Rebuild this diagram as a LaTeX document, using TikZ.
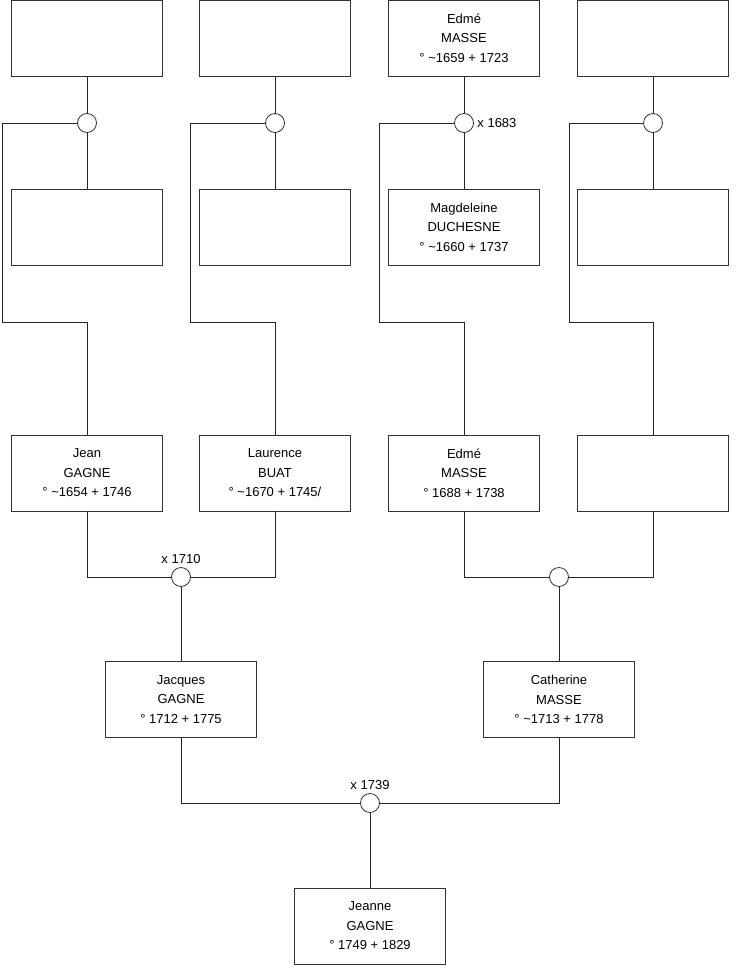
\documentclass[tikz,border=0pt]{standalone}
\usepackage{fontspec}
\setmainfont{Liberation Sans}
\usepackage{tikz}
\usetikzlibrary{positioning, calc}
\tikzstyle{person} = [rectangle,
minimum width=151pt,
minimum height=76pt,
inner sep=0pt,
align=center,
draw=black!80,
line width=0.8pt,
font=\fontsize{13}{19.5}\selectfont]
\tikzstyle{union} = [circle,
minimum size=19pt,
inner sep=0pt,
draw=black!80,
line width=0.8pt,
fill=white]
\tikzstyle{date} = [font=\fontsize{13}{15}\selectfont]
\tikzstyle{link} = [line width=0.8pt, draw=black!85]

\begin{document}
\begin{tikzpicture}[x=1pt, y=-1pt]
            \useasboundingbox (0,0) rectangle (740,975);
            % generation 1
            \node (g1a) [person] at (87,38) {};
            \node (g1b) [person] at (275,38) {};
            \node (g1c) [person] at (464,38) {Edmé\\MASSE\\° \textasciitilde1659 + 1723};
            \node (g1d) [person] at (653,38) {};
            \node (u1a) [union] at (87,123) {};
            \node (u1b) [union] at (275,123) {};
            \node (u1c) [union, label={[date]right:x 1683}] at (464,123) {};
            \node (u1d) [union] at (653,123) {};
            \node (g1e) [person] at (87,227) {};
            \node (g1f) [person] at (275,227) {};
            \node (g1g) [person] at (464,227) {Magdeleine\\DUCHESNE\\° \textasciitilde1660 + 1737};
            \node (g1h) [person] at (653,227) {};
            \coordinate (k1a) at (2,322);
            \coordinate (k1b) at (190,322);
            \coordinate (k1c) at (379,322);
            \coordinate (k1d) at (569,322);

            % generation 2
            \node (jean) [person] at (87,473) {Jean\\GAGNE\\° \textasciitilde1654 + 1746};
            \node (laurence) [person] at (275,473) {Laurence\\BUAT\\° \textasciitilde1670 + 1745/};
            \node (edme) [person] at (464,473) {Edmé\\MASSE\\° 1688 + 1738};
            \node (g2d) [person] at (653,473) {};
            \node (u2a) [union, label={[date]above:x 1710}] at (181,577) {};
            \node (u2b) [union] at (559,577) {};

            % generation 3
            \node (jacques) [person] at (181,699.5) {Jacques\\GAGNE\\° 1712 + 1775};
            \node (catherine) [person] at (559,699.5) {Catherine\\MASSE\\° \textasciitilde1713 + 1778};
            \node (u3) [union, label={[date]above:x 1739}] at (370,803) {};
            \node (jeanne) [person] at (370,926) {Jeanne\\GAGNE\\° 1749 + 1829};

            \draw [link] (g1a) -- (u1a);
            \draw [link] (u1a) -- (g1e);
            \draw [link] (u1a.west) -| (k1a) -| (jean.north);
            \draw [link] (g1b) -- (u1b);
            \draw [link] (u1b) -- (g1f);
            \draw [link] (u1b.west) -| (k1b) -| (laurence.north);
            \draw [link] (g1c) -- (u1c);
            \draw [link] (u1c) -- (g1g);
            \draw [link] (u1c.west) -| (k1c) -| (edme.north);
            \draw [link] (g1d) -- (u1d);
            \draw [link] (u1d) -- (g1h);
            \draw [link] (u1d.west) -| (k1d) -| (g2d.north);

            \draw [link] (jean.south) |- (u2a.west);
            \draw [link] (laurence.south) |- (u2a.east);
            \draw [link] (u2a) -- (jacques);
            \draw [link] (edme.south) |- (u2b.west);
            \draw [link] (g2d.south) |- (u2b.east);
            \draw [link] (u2b) -- (catherine);

            \draw [link] (jacques.south) |- (u3.west);
            \draw [link] (catherine.south) |- (u3.east);
            \draw [link] (u3) -- (jeanne);
        \end{tikzpicture}
\end{document}
